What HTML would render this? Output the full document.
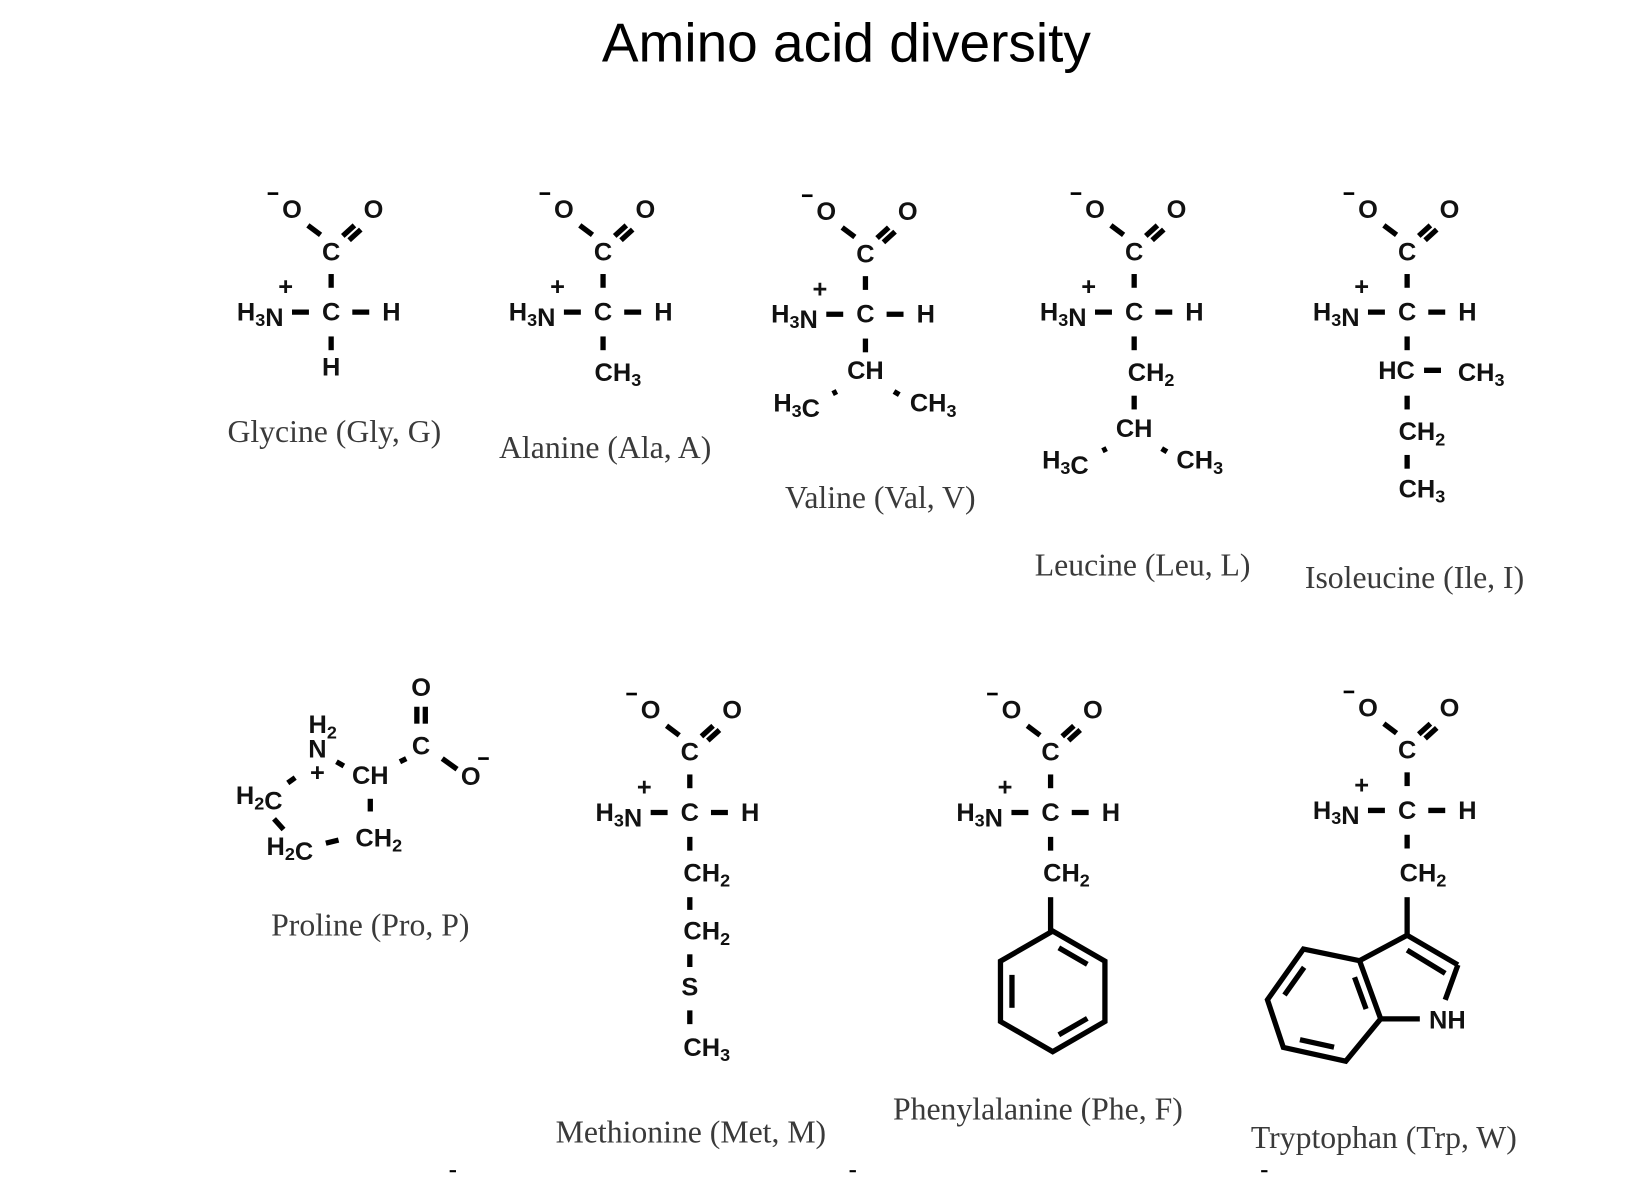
<!DOCTYPE html>
<html><head><meta charset="utf-8"><style>
html,body{margin:0;padding:0;background:#fff;}
svg{display:block;}
.a{font-family:"Liberation Sans",sans-serif;font-size:24px;font-weight:bold;fill:#111;}
.s{font-size:17px;}
.l{font-family:"Liberation Serif",serif;font-size:30px;fill:#3a3a3a;text-anchor:middle;}
.t{font-family:"Liberation Sans",sans-serif;font-size:52px;fill:#000;text-anchor:middle;}
line,polyline,polygon{stroke:#000;stroke-width:5;fill:none;}
</style></head><body>
<svg id="g" width="1642" height="1204" viewBox="0 0 1552 1138" xmlns="http://www.w3.org/2000/svg">
<text class="t" x="800" y="58">Amino acid diversity</text>
</svg>
<script>
var s='';
function T(x,y,t,anchor){s+='<text class="a" x="'+x+'" y="'+y+'" text-anchor="'+(anchor||'middle')+'">'+t+'</text>';}
function L(x1,y1,x2,y2,w){s+='<line x1="'+x1+'" y1="'+y1+'" x2="'+x2+'" y2="'+y2+'"'+(w?' style="stroke-width:'+w+'"':'')+'/>';}
function lab(x,y,t){s+='<text class="l" x="'+x+'" y="'+y+'">'+t+'</text>';}
var sub=function(n){return '<tspan class="s" dy="5">'+n+'</tspan><tspan dy="-5"></tspan>';};
function back(cx,cy){
 T(cx-37,cy-89,'O');L(cx-60,cy-112,cx-50,cy-112,2.5);
 T(cx+40,cy-89,'O');
 T(cx,cy-49,'C');
 L(cx-22,cy-82,cx-10,cy-73);L(cx+11,cy-72,cx+22,cy-82);L(cx+17,cy-68,cx+28,cy-78);
 L(cx,cy-36,cx,cy-23);
 T(cx,cy+8,'C');
 s+='<text class="a" x="'+(cx-45)+'" y="'+(cy+8)+'" text-anchor="end">H'+sub(3)+'N</text>';
 T(cx-43,cy-16,'+');
 L(cx-37,cy,cx-21,cy);L(cx+20,cy,cx+36,cy);T(cx+57,cy+8,'H');
 L(cx,cy+23,cx,cy+36);
}
back(313,295);T(313,355,'H');lab(316,418,'Glycine (Gly, G)');
back(570,295);s+='<text class="a" x="584" y="360" text-anchor="middle">CH'+sub(3)+'</text>';lab(572,433,'Alanine (Ala, A)');
back(818,297);T(818,358,'CH');
s+='<text class="a" x="753" y="389" text-anchor="middle">H'+sub(3)+'C</text>';
s+='<text class="a" x="882" y="389" text-anchor="middle">CH'+sub(3)+'</text>';
L(787,372,791,370);L(845,370,850,373);
lab(832,480,'Valine (Val, V)');
back(1072,295);s+='<text class="a" x="1088" y="360" text-anchor="middle">CH'+sub(2)+'</text>';
L(1072,374,1072,387);T(1072,413,'CH');
s+='<text class="a" x="1007" y="443" text-anchor="middle">H'+sub(3)+'C</text>';
s+='<text class="a" x="1134" y="443" text-anchor="middle">CH'+sub(3)+'</text>';
L(1042,426,1046,424);L(1098,424,1103,427);
lab(1080,544,'Leucine (Leu, L)');
back(1330,295);T(1320,358,'HC');L(1346,350,1362,350);s+='<text class="a" x="1400" y="360" text-anchor="middle">CH'+sub(3)+'</text>';
L(1330,374,1330,387);s+='<text class="a" x="1344" y="416" text-anchor="middle">CH'+sub(2)+'</text>';
L(1330,430,1330,443);s+='<text class="a" x="1344" y="470" text-anchor="middle">CH'+sub(3)+'</text>';
lab(1337,556,'Isoleucine (Ile, I)');
T(398,658,'O');L(394,668,394,684);L(402,668,402,684);T(398,713,'C');
L(418,717,432,727);T(445,742,'O');L(452,717,462,717,2.5);
L(378,720,384,717);T(350,741,'CH');
s+='<text class="a" x="305" y="693" text-anchor="middle">H'+sub(2)+'</text>';T(300,716,'N');T(300,738,'+');
L(318,720,325,724);
s+='<text class="a" x="245" y="760" text-anchor="middle">H'+sub(2)+'C</text>';
L(272,740,279,735);L(350,755,350,767);
s+='<text class="a" x="358" y="800" text-anchor="middle">CH'+sub(2)+'</text>';
L(259,774,268,784);
s+='<text class="a" x="274" y="808" text-anchor="middle">H'+sub(2)+'C</text>';L(308,797,320,794);
lab(350,884,'Proline (Pro, P)');
back(652,768);
s+='<text class="a" x="668" y="833" text-anchor="middle">CH'+sub(2)+'</text>';L(652,848,652,860);
s+='<text class="a" x="668" y="888" text-anchor="middle">CH'+sub(2)+'</text>';L(652,902,652,914);
T(652,941,'S');L(652,955,652,968);
s+='<text class="a" x="668" y="998" text-anchor="middle">CH'+sub(3)+'</text>';
lab(653,1080,'Methionine (Met, M)');
back(993,768);s+='<text class="a" x="1008" y="833" text-anchor="middle">CH'+sub(2)+'</text>';
L(993,848,993,880);
var cx=995,cy=937,r=57,p=[];for(var i=0;i<6;i++){var a=Math.PI/180*(-90+60*i);p.push([cx+r*Math.cos(a),cy+r*Math.sin(a)]);}
s+='<polygon points="'+p.map(function(q){return q.join(',')}).join(' ')+'"/>';
function inner(a,b,c){var k=0.78;var ax=c[0]+(a[0]-c[0])*k,ay=c[1]+(a[1]-c[1])*k,bx=c[0]+(b[0]-c[0])*k,by=c[1]+(b[1]-c[1])*k;var m=0.15;L(ax+(bx-ax)*m,ay+(by-ay)*m,bx-(bx-ax)*m,by-(by-ay)*m);}
inner(p[0],p[1],[cx,cy]);inner(p[2],p[3],[cx,cy]);inner(p[4],p[5],[cx,cy]);
lab(981,1058,'Phenylalanine (Phe, F)');
back(1330,766);s+='<text class="a" x="1345" y="833" text-anchor="middle">CH'+sub(2)+'</text>';
L(1330,848,1330,884);
var C3=[1330,884],C2=[1378,912],N1=[1360,960],C7a=[1305,963],C3a=[1285,908],C4=[1232,897],C5=[1198,945],C6=[1213,990],C7=[1272,1003];
L(C3[0],C3[1],C2[0],C2[1]);L(C2[0],C2[1],1366,945);L(1342,963,C7a[0],C7a[1]);
L(C3a[0],C3a[1],C3[0],C3[1]);
s+='<polygon points="'+[C3a,C4,C5,C6,C7,C7a].map(String).join(' ')+'"/>';
L(1330,898,1366,920);
var bc=[1253,950];inner(C3a,C7a,bc);inner(C4,C5,bc);inner(C6,C7,bc);
T(1368,972,'NH');
lab(1308,1085,'Tryptophan (Trp, W)');
L(425,1107,431,1107,2);L(803,1107,809,1107,2);L(1192,1107,1198,1107,2);
document.getElementById('g').insertAdjacentHTML('beforeend',s);
</script>
</body></html>
